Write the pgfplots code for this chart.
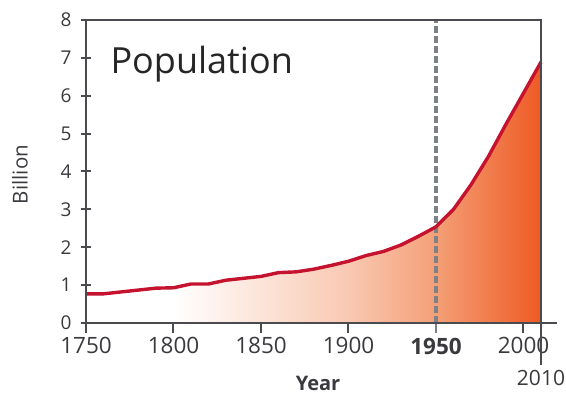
\documentclass[border=0pt]{standalone}
\usepackage{pgfplots}
\pgfplotsset{compat=1.18}
\usepackage{fontspec}
\setmainfont{Open Sans}
\definecolor{axisgray}{HTML}{4A4A4F}
\definecolor{textgray}{HTML}{3A3A3E}
\definecolor{linered}{HTML}{C4122F}
\definecolor{dashgray}{HTML}{7E8189}
\definecolor{oA}{HTML}{F9C9B2}
\definecolor{oB}{HTML}{F49F76}
\definecolor{oC}{HTML}{EE5A24}
\pgfdeclarehorizontalshading{popshade}{100bp}{color(0bp)=(white); color(25bp)=(white); color(34.6bp)=(white); color(53.8bp)=(oA); color(63.5bp)=(oB); color(75bp)=(oC); color(100bp)=(oC)}
\pgfplotstableread{
year pop
1750 0.77
1760 0.77
1770 0.82
1780 0.87
1790 0.92
1800 0.93
1810 1.03
1820 1.03
1830 1.13
1840 1.18
1850 1.23
1860 1.33
1870 1.35
1880 1.42
1890 1.52
1900 1.63
1910 1.78
1920 1.89
1930 2.06
1940 2.29
1950 2.54
1960 3.00
1970 3.65
1980 4.40
1990 5.25
2000 6.07
2010 6.89
}\popdata
\begin{document}
\begin{tikzpicture}
\begin{axis}[
  scale only axis,
  width=455pt, height=303pt,
  xmin=1750, xmax=2010, ymin=0, ymax=8,
  axis line style={axisgray, line width=2pt},
  xtick={1750,1800,1850,1900,2000},
  ytick={0,1,...,8},
  extra x ticks={1950},
  extra x tick labels={\textbf{1950}},
  extra x tick style={tick style={dashgray, line width=2pt}, ticklabel style={font=\fontsize{26}{26}\selectfont, text=dashgray, yshift=-1pt}},
  xtick pos=bottom, ytick pos=left,
  tick align=outside,
  major tick length=10pt,
  tick style={axisgray, line width=2pt},
  y tick style={xshift=5pt},
  xticklabel style={font=\fontsize{22.5}{22.5}\selectfont, text=textgray, yshift=-1pt},
  yticklabel style={font=\fontsize{19}{19}\selectfont, text=textgray, xshift=-1pt},
  /pgf/number format/.cd, 1000 sep={}, /pgfplots/.cd,
  /pgf/number format/assume math mode=true,
  clip=false,
]
\addplot[draw=none, shade, shading=popshade] table[x=year,y=pop]{\popdata} \closedcycle;
\addplot[dashgray, line width=3.5pt, dash pattern=on 6.5pt off 3.5pt] coordinates {(1950,0) (1950,8)};
\addplot[linered, line width=3.4pt, line join=round] table[x=year,y=pop]{\popdata};
\draw[axisgray, line width=2pt] (rel axis cs:0,0) -- ([xshift=16pt]rel axis cs:1,0);
\draw[axisgray, line width=2pt] (rel axis cs:1,1) -- ([yshift=-42pt]rel axis cs:1,0);
\draw[axisgray, line width=2pt] (rel axis cs:0,0) rectangle (rel axis cs:1,1);
\node[font=\fontsize{21}{21}\selectfont, text=textgray, anchor=north] at ([yshift=-44pt]rel axis cs:1,0) {2010};
\node[font=\fontsize{36}{36}\selectfont, text=black!85, anchor=base west] at (axis cs:1762,6.58) {Population};
\node[font=\bfseries\fontsize{20}{20}\selectfont, text=textgray, inner sep=0pt, anchor=base] at ([yshift=-68pt]rel axis cs:0.51,0) {Year};
\node[font=\fontsize{20.5}{20.5}\selectfont, text=textgray, rotate=90, inner sep=0pt] at ([xshift=-66pt]rel axis cs:0,0.49) {Billion};
\coordinate (O) at (rel axis cs:0,0);
\end{axis}
\pgfresetboundingbox
\path[use as bounding box] (O) ++(-86pt,-75pt) rectangle ++(566pt,398pt);
\end{tikzpicture}
\end{document}
